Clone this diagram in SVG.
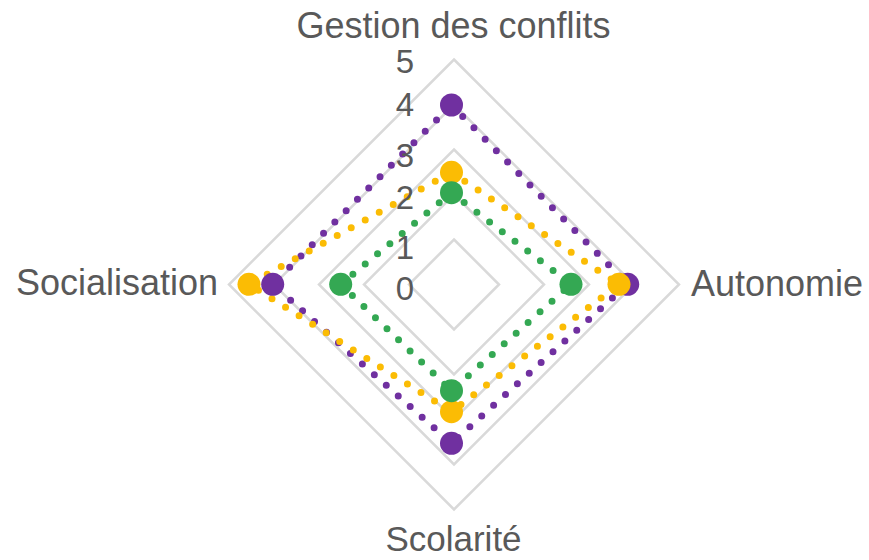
<svg xmlns="http://www.w3.org/2000/svg" width="869" height="560" viewBox="0 0 869 560">
<style>
.grid{fill:none;stroke:#d9d9d9;stroke-width:2.5}
.lbl{font-family:"Liberation Sans",Arial,sans-serif;font-size:36px;fill:#595959}
.tick{font-family:"Liberation Sans",Arial,sans-serif;font-size:33px;fill:#595959;text-anchor:end}
.ser{fill:none;stroke-width:7;stroke-linecap:round;stroke-dasharray:0 16}
.p{stroke:#7030a0}.pf{fill:#7030a0}
.y{stroke:#fbbc04}.yf{fill:#fbbc04}
.g{stroke:#34a853}.gf{fill:#34a853}
</style>
<rect width="869" height="560" fill="#ffffff"/>
<g id="grid">
<polygon class="grid" points="454,239.5 499,284.5 454,329.5 409,284.5"/>
<polygon class="grid" points="454,194.5 544,284.5 454,374.5 364,284.5"/>
<polygon class="grid" points="454,149.5 589,284.5 454,419.5 319,284.5"/>
<polygon class="grid" points="454,104.5 634,284.5 454,464.5 274,284.5"/>
<polygon class="grid" points="454,59.5 679,284.5 454,509.5 229,284.5"/>
</g>
<g id="connectors">
<polygon class="ser p" points="451.5,105 627.7,284.3 451.5,443.3 272.7,284.3"/>
<polygon class="ser y" points="451.5,172.3 619,284.3 451.5,411.7 249,284.3"/>
<polygon class="ser g" points="451.5,192.7 571,284.3 451.5,390.7 340.7,284.3"/>
</g>
<g id="series-purple">
<circle class="pf" cx="451.5" cy="105" r="11.5"/>
<circle class="pf" cx="627.7" cy="284.3" r="11.5"/>
<circle class="pf" cx="451.5" cy="443.3" r="11.5"/>
<circle class="pf" cx="272.7" cy="284.3" r="11.5"/>
</g>
<g id="series-yellow">
<circle class="yf" cx="451.5" cy="172.3" r="11.5"/>
<circle class="yf" cx="619" cy="284.3" r="11.5"/>
<circle class="yf" cx="451.5" cy="411.7" r="11.5"/>
<circle class="yf" cx="249" cy="284.3" r="11.5"/>
</g>
<g id="series-green">
<circle class="gf" cx="451.5" cy="192.7" r="11.5"/>
<circle class="gf" cx="571" cy="284.3" r="11.5"/>
<circle class="gf" cx="451.5" cy="390.7" r="11.5"/>
<circle class="gf" cx="340.7" cy="284.3" r="11.5"/>
</g>
<g id="ticks">
<text class="tick" x="414" y="72.5">5</text>
<text class="tick" x="414" y="116">4</text>
<text class="tick" x="414" y="166.5">3</text>
<text class="tick" x="414" y="208.5">2</text>
<text class="tick" x="414" y="258.5">1</text>
<text class="tick" x="414" y="300">0</text>
</g>
<g id="axis-gestion"><text class="lbl" x="453.5" y="38" text-anchor="middle">Gestion des conflits</text></g>
<g id="axis-autonomie"><text class="lbl" x="691" y="295.5">Autonomie</text></g>
<g id="axis-scolarite"><text class="lbl" x="453.5" y="551" text-anchor="middle" style="font-size:35px">Scolarité</text></g>
<g id="axis-socialisation"><text class="lbl" x="218" y="294.5" text-anchor="end">Socialisation</text></g>
</svg>
